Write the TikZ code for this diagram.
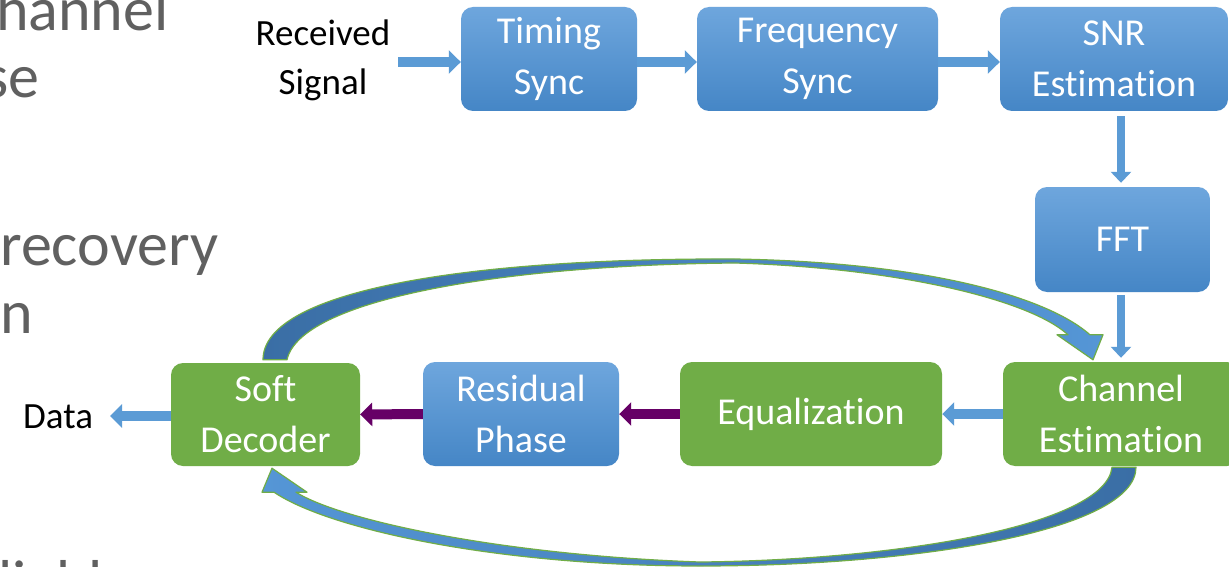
\documentclass[tikz,border=0pt]{standalone}
\usepackage{fontspec}
\setmainfont{Carlito}[Ligatures=NoCommon]
\usetikzlibrary{arrows.meta,calc}

\definecolor{boxblueT}{HTML}{6EA6DD}
\definecolor{boxblueB}{HTML}{4586C6}
\definecolor{boxgreen}{HTML}{70AD47}
\definecolor{arrblue}{HTML}{5B9BD5}
\definecolor{arrpurple}{HTML}{660066}
\definecolor{loopdark}{HTML}{3A6EA5}
\definecolor{looplight}{HTML}{5596D6}
\definecolor{slidegray}{HTML}{606060}

\tikzset{
  blk/.style={rounded corners=12pt, minimum height=104pt, inner sep=0pt,
    align=center, text=white, font=\fontsize{38}{51}\selectfont},
  bluebox/.style={blk, top color=boxblueT, bottom color=boxblueB},
  greenbox/.style={blk, fill=boxgreen},
  flowarrow/.style={line width=10pt, -{Triangle[length=12pt,width=23pt]}},
  bflow/.style={flowarrow, draw=arrblue},
  vflow/.style={line width=8pt, draw=arrblue, -{Triangle[length=11pt,width=20pt]}},
  pflow/.style={flowarrow, draw=arrpurple},
  lbl/.style={inner sep=0pt, align=center, font=\fontsize{37}{49}\selectfont},
  slidetext/.style={inner sep=0pt, anchor=base west, text=slidegray,
    font=\fontsize{62}{74}\selectfont},
  looparrow/.style={draw=boxgreen, line width=1.2pt, line join=round}
}

\begin{document}
\begin{tikzpicture}[x=1pt,y=-1pt]
\useasboundingbox (0,0) rectangle (1229,567);
\fill[white] (0,0) rectangle (1229,567);

% body text of the slide behind the diagram
\node[slidetext] (t1) at (-4,31) {hannel};
\node[slidetext] (t2) at (-16,98) {se};
\node[slidetext] (t3) at (0,265) {recovery};
\node[slidetext] (t4) at (0,333) {n};
\node[slidetext] (t5) at (-2,603) {liable};

% processing blocks
\node[bluebox, minimum width=176pt] (timing) at (549,59) {Timing\\Sync};
\node[bluebox, minimum width=241pt] (freq) at (817.5,59) {Frequency\\Sync};
\node[bluebox, minimum width=228pt] (snr) at (1114,59) {SNR\\Estimation};
\node[bluebox, minimum width=175pt, minimum height=105pt] (fft) at (1122.5,239.5) {FFT};
\node[greenbox, minimum width=236pt] (chan) at (1121,414) {Channel\\Estimation};
\node[greenbox, minimum width=262pt] (equal) at (811,414) {Equalization};
\node[bluebox, minimum width=196pt] (resid) at (521,414) {Residual\\Phase};
\node[greenbox, minimum width=189pt, minimum height=103pt] (soft) at (265.5,414.5) {Soft\\Decoder};

% input and output labels
\node[lbl] (rx) at (323,60) {Received\\Signal};
\node[lbl, anchor=base west] (data) at (23,428) {Data};
\coordinate (rxend) at (398,62);
\coordinate (dataend) at (110,416);

% straight connectors
\draw[bflow] (rxend) -- ([yshift=-3pt]timing.west);
\draw[bflow] ([yshift=-3pt]timing.east) -- ([yshift=-3pt]freq.west);
\draw[bflow] ([yshift=-3pt]freq.east) -- ([yshift=-3pt]snr.west);
\draw[vflow, shorten <=5pt, shorten >=4pt] (snr.south -| chan.north) -- (fft.north -| chan.north);
\draw[vflow, shorten <=3pt, shorten >=4pt] (fft.south -| chan.north) -- (chan.north);
\draw[bflow] (chan.west) -- (equal.east);
\draw[pflow] (equal.west) -- (resid.east);
\draw[pflow] (resid.west) -- (soft.east);
\draw[bflow] ([yshift=-1.5pt]soft.west) -- (dataend);

% feedback loop: decoder back to channel estimation (over the top)
\path[looparrow, left color=loopdark, right color=looplight]
  ($(soft.north)+(-2.5,-3)$) .. controls (263,290) and (470,258) .. (735,259)
  .. controls (920,262) and (1045,295) .. ($(chan.north)+(-31,-27)$)
  -- ($(chan.north)+(-18,-27)$) -- ($(chan.north)+(-28,-2)$)
  -- ($(chan.north)+(-64,-27)$) -- ($(chan.north)+(-53,-27)$)
  .. controls (1030,300) and (900,268) .. (735,263)
  .. controls (500,265) and (300,300) .. ($(soft.north)+(21.5,-3)$) -- cycle;

% feedback loop: channel estimation back to decoder (underneath)
\path[looparrow, left color=looplight, right color=loopdark]
  ($(chan.south)+(-9,1)$) .. controls (1106,525) and (900,560) .. (700,562)
  .. controls (500,555) and (340,520) .. ($(soft.south)+(30.5,26)$)
  -- ($(soft.south)+(41.5,26)$) -- ($(soft.south)+(6.5,2)$)
  -- ($(soft.south)+(-3.5,26)$) -- ($(soft.south)+(8.5,26)$)
  .. controls (330,530) and (500,566) .. (700,566)
  .. controls (920,566) and (1136,530) .. ($(chan.south)+(15,1)$) -- cycle;
\end{tikzpicture}
\end{document}
